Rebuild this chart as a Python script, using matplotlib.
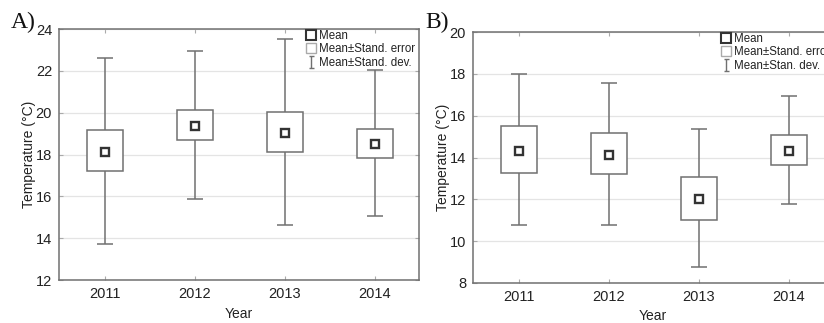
import matplotlib
matplotlib.use('Agg')
import matplotlib.pyplot as plt
from matplotlib.lines import Line2D
from matplotlib.path import Path

plt.rcParams['font.family'] = ['Liberation Sans', 'DejaVu Sans']

years = ['2011', '2012', '2013', '2014']

# panel A
a_mean = [18.13, 19.36, 19.04, 18.50]
a_se_lo = [17.20, 18.69, 18.10, 17.81]
a_se_hi = [19.17, 20.12, 20.04, 19.23]
a_sd_lo = [13.70, 15.87, 14.62, 15.07]
a_sd_hi = [22.60, 22.95, 23.52, 22.02]

# panel B
b_mean = [14.32, 14.11, 12.01, 14.32]
b_se_lo = [13.24, 13.19, 11.00, 13.64]
b_se_hi = [15.50, 15.15, 13.06, 15.09]
b_sd_lo = [10.75, 10.75, 8.76, 11.80]
b_sd_hi = [17.99, 17.55, 15.34, 16.95]

gray = '#707070'
W, H = 824, 323

fig = plt.figure(figsize=(W / 100, H / 100), dpi=100)
fig.patch.set_facecolor('white')

ibar = Path([(-0.45, 1), (0.45, 1), (0, 1), (0, -1), (-0.45, -1), (0.45, -1)],
            [Path.MOVETO, Path.LINETO, Path.MOVETO, Path.LINETO, Path.MOVETO, Path.LINETO])


def panel(rect, mean, se_lo, se_hi, sd_lo, sd_hi, ylim, yticks, letter, lx, legend_xy, sd_label):
    ax = fig.add_axes(rect)
    x = list(range(1, len(years) + 1))
    yerr = [[m - l for m, l in zip(mean, sd_lo)], [h - m for m, h in zip(mean, sd_hi)]]
    ax.errorbar(x, mean, yerr=yerr, fmt='none', ecolor=gray, elinewidth=1.1,
                capsize=6, capthick=1.1, zorder=2)
    ax.bar(x, [h - l for h, l in zip(se_hi, se_lo)], bottom=se_lo, width=0.4,
           facecolor='white', edgecolor=gray, linewidth=1.1, zorder=3)
    ax.plot(x, mean, 's', ms=6, mfc='white', mec='#333333', mew=1.7, zorder=4)
    ax.set_xlim(0.49, 4.49)
    ax.set_ylim(*ylim)
    ax.set_yticks(yticks)
    ax.set_xticks(x)
    ax.set_xticklabels(years)
    ax.yaxis.grid(True, color='#e4e4e4', linewidth=0.9)
    ax.set_axisbelow(True)
    for s in ax.spines.values():
        s.set_color(gray)
        s.set_linewidth(1.1)
    ax.tick_params(direction='in', length=3, color='#aaaaaa', labelsize=10.5,
                   labelcolor='#222222', top=True, right=True, pad=5)
    ax.set_ylabel('Temperature (°C)', fontsize=10, color='#222222', labelpad=0)
    ax.set_xlabel('Year', fontsize=10, color='#222222', labelpad=4)
    fig.text(lx / W, 1 - 22 / H, letter, family=['Liberation Serif', 'DejaVu Serif'],
             fontsize=17, ha='left', va='center', color='#111111')
    handles = [
        Line2D([], [], ls='none', marker='s', ms=6.5, mfc='white', mec='#333333', mew=1.5),
        Line2D([], [], ls='none', marker='s', ms=7.5, mfc='white', mec='#aaaaaa', mew=1.0),
        Line2D([], [], ls='none', marker=ibar, ms=8, mfc='none', mec=gray, mew=1.0),
    ]
    labels = ['Mean', 'Mean±Stand. error', sd_label]
    fig.legend(handles, labels, loc='upper left', bbox_to_anchor=legend_xy,
               frameon=False, fontsize=8.3, handlelength=0.7, handletextpad=0.3,
               labelspacing=0.12, borderpad=0, borderaxespad=0, labelcolor='#222222')
    return ax


panel([59 / W, 1 - 280 / H, 360 / W, 251 / H], a_mean, a_se_lo, a_se_hi, a_sd_lo, a_sd_hi,
      (12, 24), [12, 14, 16, 18, 20, 22, 24], 'A)', 11, (307 / W, 1 - 30 / H), 'Mean±Stand. dev.')
panel([473 / W, 1 - 283 / H, 360 / W, 251 / H], b_mean, b_se_lo, b_se_hi, b_sd_lo, b_sd_hi,
      (8, 20), [8, 10, 12, 14, 16, 18, 20], 'B)', 425, (722 / W, 1 - 33 / H), 'Mean±Stan. dev.')

fig.savefig('out.png', dpi=100)
